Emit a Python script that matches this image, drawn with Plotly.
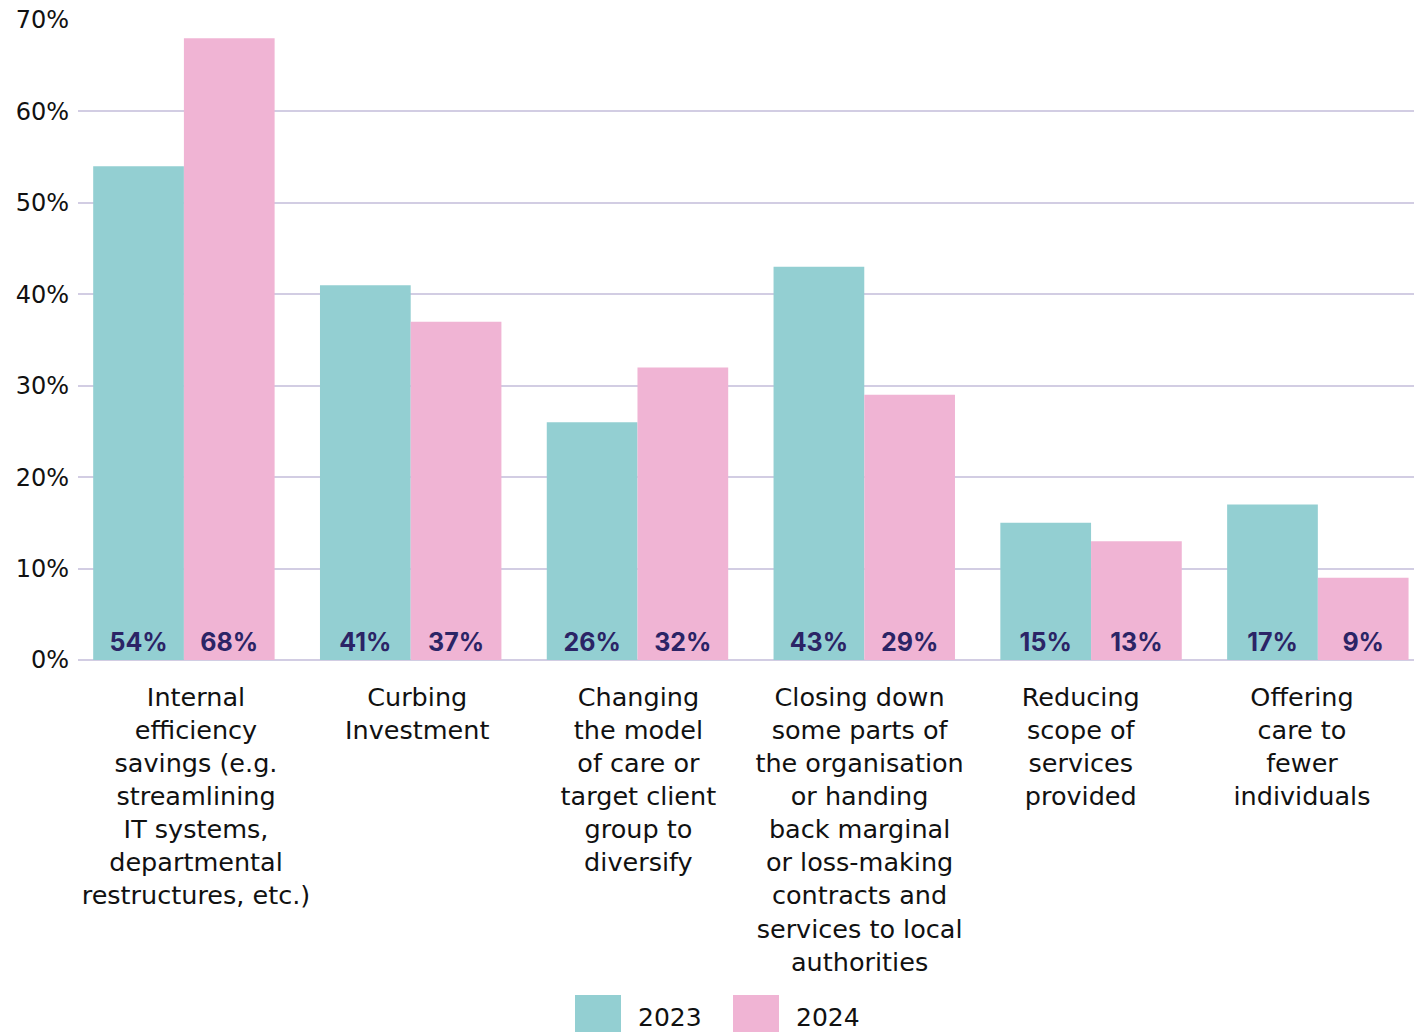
import plotly.graph_objects as go

# Cost-reduction measures, share of respondents
categories = [
    "Internal<br>efficiency<br>savings (e.g.<br>streamlining<br>IT systems,<br>departmental<br>restructures, etc.)",
    "Curbing<br>Investment",
    "Changing<br>the model<br>of care or<br>target client<br>group to<br>diversify",
    "Closing down<br>some parts of<br>the organisation<br>or handing<br>back marginal<br>or loss-making<br>contracts and<br>services to local<br>authorities",
    "Reducing<br>scope of<br>services<br>provided",
    "Offering<br>care to<br>fewer<br>individuals",
]
series_names = ["2023", "2024"]
values_2023 = [54, 41, 26, 43, 15, 17]
values_2024 = [68, 37, 32, 29, 13, 9]
y_ticks = [0, 10, 20, 30, 40, 50, 60, 70]

colors = ["#93CFD2", "#F0B4D4"]
label_color = "#2B2466"
grid_color = "#D2CDE3"
text_font = "DejaVu Sans, Verdana, sans-serif"
label_font = "Inter, Open Sans, sans-serif"

fig = go.Figure()
for name, vals, col in zip(series_names, [values_2023, values_2024], colors):
    fig.add_trace(go.Bar(
        x=categories,
        y=vals,
        name=name,
        marker=dict(color=col, line=dict(width=0)),
        text=[f"{v}%" for v in vals],
        textposition="inside",
        insidetextanchor="start",
        textangle=0,
        textfont=dict(family=label_font, size=25, color=label_color, weight="bold"),
        showlegend=False,
    ))

# Category labels sit on their own overlaid axis with slightly wider spacing
fig.add_trace(go.Scatter(
    x=list(range(len(categories))),
    y=[0] * len(categories),
    xaxis="x2",
    mode="markers",
    marker=dict(opacity=0),
    hoverinfo="skip",
    showlegend=False,
))

fig.update_layout(
    width=1414,
    height=1032,
    margin=dict(l=78, r=0, t=20, b=372),
    paper_bgcolor="white",
    plot_bgcolor="white",
    barmode="group",
    bargap=0.2,
    bargroupgap=0,
    font=dict(family=text_font, color="#111111"),
    xaxis=dict(
        range=[-0.467, 5.424],
        showgrid=False,
        showline=False,
        ticks="",
        showticklabels=False,
    ),
    xaxis2=dict(
        overlaying="x",
        side="bottom",
        range=[-0.5335, 5.5065],
        tickmode="array",
        tickvals=list(range(len(categories))),
        ticktext=categories,
        showgrid=False,
        zeroline=False,
        showline=False,
        ticks="",
        tickangle=0,
        tickfont=dict(family=text_font, size=25.5, color="#111111"),
        ticklabelstandoff=19,
    ),
)

fig.update_yaxes(
    range=[0, 70],
    tickvals=y_ticks,
    ticktext=[f"{t}%" for t in y_ticks],
    showgrid=True,
    gridcolor=grid_color,
    gridwidth=2,
    zeroline=True,
    zerolinecolor=grid_color,
    zerolinewidth=2,
    showline=False,
    ticks="",
    ticklabelstandoff=8,
    tickfont=dict(family=text_font, size=24, color="#111111"),
)

# Legend drawn as large swatches below the category labels
legend_x = [575, 733]
for name, col, x0 in zip(series_names, colors, legend_x):
    fig.add_shape(
        type="rect", xref="paper", yref="paper",
        x0=(x0 - 78) / 1336, x1=(x0 + 46 - 78) / 1336,
        y0=-(1040 - 660) / 640, y1=-(995 - 660) / 640,
        fillcolor=col, line=dict(width=0), layer="above",
    )
    fig.add_annotation(
        xref="paper", yref="paper",
        x=(x0 + 61 - 78) / 1336, y=-(1017 - 660) / 640,
        text=name, showarrow=False, xanchor="left", yanchor="middle",
        font=dict(family=text_font, size=25, color="#111111"),
    )

fig.write_html("out.html")
